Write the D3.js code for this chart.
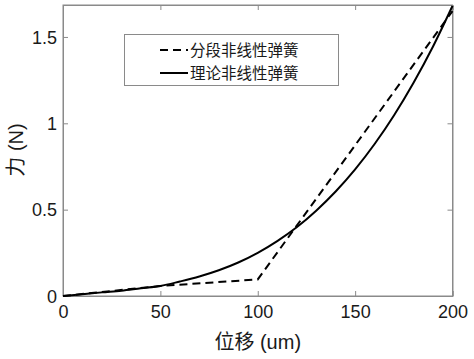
<!DOCTYPE html>
<html><head><meta charset="utf-8">
<script src="https://cdn.jsdelivr.net/npm/d3@7"></script>
<style>
html,body{margin:0;padding:0;background:#fff;}
svg{display:block;}
text{font-family:"Liberation Sans",Arial,"Noto Sans CJK SC",sans-serif;}
</style></head>
<body>
<script>
// data
const theoryX = [0,10,20,30,40,50,60,70,80,90,100,110,120,130,140,150,160,170,180,190,200];
const theoryY = [0,0.010,0.021,0.031,0.045,0.058,0.084,0.113,0.149,0.194,0.25,0.318,0.398,0.494,0.605,0.733,0.880,1.047,1.235,1.445,1.68];
const pieceX = [0,50,100,200];
const pieceY = [0,0.058,0.096,1.65];
const xTicks = [0,50,100,150,200];
const yTicks = [0,0.5,1,1.5];
const yTickLabels = ["0","0.5","1","1.5"];
const legendLabels = ["分段非线性弹簧","理论非线性弹簧"];
const xLabel = "位移 (um)";
const yLabel = "力 (N)";

const W=474,H=359;
const L=63,R=452.5,T=5,B=296;
const svg=d3.select("body").append("svg").attr("width",W).attr("height",H);
const x=d3.scaleLinear().domain([0,200]).range([L,R]);
const y=d3.scaleLinear().domain([0,1.685]).range([B,T]);

const axisCol="#8a8a8a", textCol="#1a1a1a";
// box
svg.append("rect").attr("x",L).attr("y",T).attr("width",R-L).attr("height",B-T)
  .attr("fill","#fff").attr("stroke",axisCol).attr("stroke-width",1);

// axes
const gx=svg.append("g").attr("transform",`translate(0,${B})`)
  .call(d3.axisBottom(x).tickValues(xTicks).tickSize(-5).tickPadding(9).tickFormat(d3.format("d")));
const gxt=svg.append("g").attr("transform",`translate(0,${T})`)
  .call(d3.axisTop(x).tickValues(xTicks).tickSize(-5).tickFormat(""));
const gy=svg.append("g").attr("transform",`translate(${L},0)`)
  .call(d3.axisLeft(y).tickValues(yTicks).tickSize(-5).tickPadding(6).tickFormat((d,i)=>yTickLabels[i]));
const gyr=svg.append("g").attr("transform",`translate(${R},0)`)
  .call(d3.axisRight(y).tickValues(yTicks).tickSize(-5).tickFormat(""));
[gx,gxt,gy,gyr].forEach(g=>{
  g.select(".domain").attr("stroke",axisCol);
  g.selectAll(".tick line").attr("stroke",axisCol);
  g.selectAll(".tick text").attr("fill",textCol).style("font-size","18px");
});
gx.selectAll(".tick text").attr("dy","0.71em");
gy.selectAll(".tick text").attr("dy","0.35em");

// lines
const line=d3.line().x(d=>x(d[0])).y(d=>y(d[1]));
const theory=theoryX.map((v,i)=>[v,theoryY[i]]);
const piece=pieceX.map((v,i)=>[v,pieceY[i]]);
svg.append("path").datum(piece).attr("d",line.curve(d3.curveLinear))
  .attr("fill","none").attr("stroke","#000").attr("stroke-width",2).attr("stroke-dasharray","8,5");
svg.append("path").datum(theory).attr("d",d3.line().x(d=>x(d[0])).y(d=>y(d[1])).curve(d3.curveMonotoneX))
  .attr("fill","none").attr("stroke","#000").attr("stroke-width",2);

// axis labels
svg.append("text").attr("x",(L+R)/2).attr("y",349).attr("text-anchor","middle")
  .attr("fill",textCol).style("font-size","20px").text(xLabel);
svg.append("text").attr("transform","translate(23,150) rotate(-90)").attr("text-anchor","middle")
  .attr("fill",textCol).style("font-size","20px").text(yLabel);

// legend
const lg=svg.append("g");
lg.append("rect").attr("x",124.5).attr("y",34.5).attr("width",214).attr("height",51)
  .attr("fill","#fff").attr("stroke",axisCol).attr("stroke-width",1);
const rows=[{y:50,dash:"8,5"},{y:73,dash:null}];
rows.forEach((r,i)=>{
  const ln=lg.append("line").attr("x1",160).attr("x2",188).attr("y1",r.y).attr("y2",r.y)
    .attr("stroke","#000").attr("stroke-width",2);
  if(r.dash) ln.attr("stroke-dasharray",r.dash);
  lg.append("text").attr("x",190).attr("y",r.y).attr("dy","0.36em")
    .attr("fill",textCol).style("font-size","15.5px")
    .style("font-family","'Noto Sans CJK SC',sans-serif").text(legendLabels[i]);
});
</script>
</body></html>
